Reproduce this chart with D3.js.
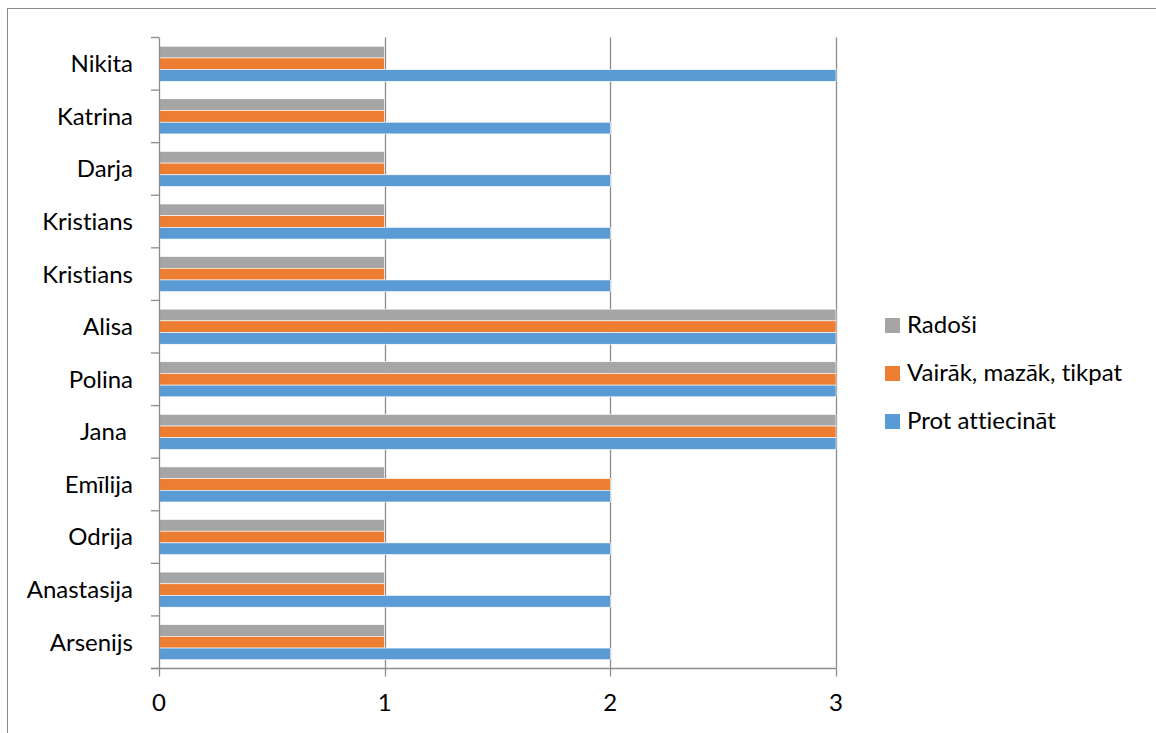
<!DOCTYPE html>
<html>
<head>
<meta charset="utf-8">
<script src="https://cdn.jsdelivr.net/npm/d3@7"></script>
<style>
  body { margin: 0; background: #fff; }
  text { font-family: Lato, "Open Sans", sans-serif; fill: #000; white-space: pre;
         font-variant-ligatures: none; font-feature-settings: "liga" 0; }
</style>
</head>
<body>
<svg id="chart"></svg>
<script>
// categories listed top to bottom as drawn
const names = ["Nikita", "Katrina", "Darja", "Kristians", "Kristians", "Alisa",
               "Polina", "Jana ", "Emīlija", "Odrija", "Anastasija", "Arsenijs"];
const seriesNames = ["Radoši", "Vairāk, mazāk, tikpat", "Prot attiecināt"];
const radosi    = [1, 1, 1, 1, 1, 3, 3, 3, 1, 1, 1, 1];
const vairak    = [1, 1, 1, 1, 1, 3, 3, 3, 2, 1, 1, 1];
const prot      = [3, 2, 2, 2, 2, 3, 3, 3, 2, 2, 2, 2];
const xTicks = [0, 1, 2, 3];

const colors = ["#A5A5A5", "#ED7D31", "#5B9BD5"];
const W = 1156, H = 733;
const fs = 24;

const svg = d3.select("#chart").attr("width", W).attr("height", H);

// outer chart border (runs off the right/bottom of the picture)
svg.append("rect")
  .attr("x", 7.5).attr("y", 8.5)
  .attr("width", W).attr("height", H)
  .attr("fill", "none").attr("stroke", "#8c8c8c").attr("stroke-width", 1);

const x = d3.scaleLinear().domain([0, 3]).range([159, 836]);
const y = d3.scaleBand().domain(d3.range(names.length)).range([37.5, 668.5]);
const inner = d3.scaleBand().domain(d3.range(3))
  .range([0, y.bandwidth()]).paddingOuter(0.75);

const rows = names.map((n, i) => ({ i, name: n, vals: [radosi[i], vairak[i], prot[i]] }));

// gridlines
svg.append("g").selectAll("line").data(xTicks.filter(d => d > 0)).join("line")
  .attr("x1", d => Math.round(x(d)) + 0.5).attr("x2", d => Math.round(x(d)) + 0.5)
  .attr("y1", y.range()[0]).attr("y2", y.range()[1])
  .attr("stroke", "#8c8c8c").attr("stroke-width", 1.3);

// bars
const grp = svg.append("g").selectAll("g").data(rows).join("g")
  .attr("transform", d => `translate(0,${y(d.i)})`);
grp.selectAll("rect").data(d => d.vals.map((v, k) => ({ v, k }))).join("rect")
  .attr("x", x(0))
  .attr("y", d => inner(d.k))
  .attr("width", d => x(d.v) - x(0))
  .attr("height", inner.bandwidth())
  .attr("fill", d => colors[d.k])
  .attr("stroke", "#fff").attr("stroke-width", 0.6);

// y axis: line plus ticks at band boundaries
const yAx = svg.append("g");
yAx.append("line")
  .attr("x1", x(0) + 0.5).attr("x2", x(0) + 0.5)
  .attr("y1", y.range()[0]).attr("y2", y.range()[1])
  .attr("stroke", "#8c8c8c").attr("stroke-width", 1.3);
yAx.selectAll(".tk").data(d3.range(names.length + 1)).join("line")
  .attr("x1", x(0) - 8).attr("x2", x(0))
  .attr("y1", d => y.range()[0] + d * y.step())
  .attr("y2", d => y.range()[0] + d * y.step())
  .attr("stroke", "#8c8c8c").attr("stroke-width", 1.3);
yAx.selectAll("text").data(rows).join("text")
  .attr("x", 133)
  .attr("y", d => y(d.i) + y.bandwidth() / 2)
  .attr("dy", "0.35em")
  .attr("text-anchor", "end")
  .attr("font-size", fs)
  .text(d => d.name);

// x axis
const xAx = svg.append("g");
xAx.append("line")
  .attr("x1", x(0) - 8).attr("x2", x(3))
  .attr("y1", y.range()[1]).attr("y2", y.range()[1])
  .attr("stroke", "#8c8c8c").attr("stroke-width", 1.3);
xAx.selectAll(".tk").data(xTicks).join("line")
  .attr("x1", d => Math.round(x(d)) + 0.5).attr("x2", d => Math.round(x(d)) + 0.5)
  .attr("y1", y.range()[1]).attr("y2", y.range()[1] + 8)
  .attr("stroke", "#8c8c8c").attr("stroke-width", 1.3);
xAx.selectAll("text").data(xTicks).join("text")
  .attr("x", d => x(d))
  .attr("y", 703)
  .attr("dy", "0.35em")
  .attr("text-anchor", "middle")
  .attr("font-size", fs)
  .text(d => d);

// legend
const leg = svg.append("g").selectAll("g").data(seriesNames).join("g")
  .attr("transform", (d, k) => `translate(885,${325 + k * 48})`);
leg.append("rect")
  .attr("x", 0).attr("y", -7).attr("width", 15).attr("height", 15)
  .attr("fill", (d, k) => colors[k]);
leg.append("text")
  .attr("x", 22).attr("dy", "0.35em")
  .attr("font-size", fs)
  .text(d => d);
</script>
</body>
</html>
